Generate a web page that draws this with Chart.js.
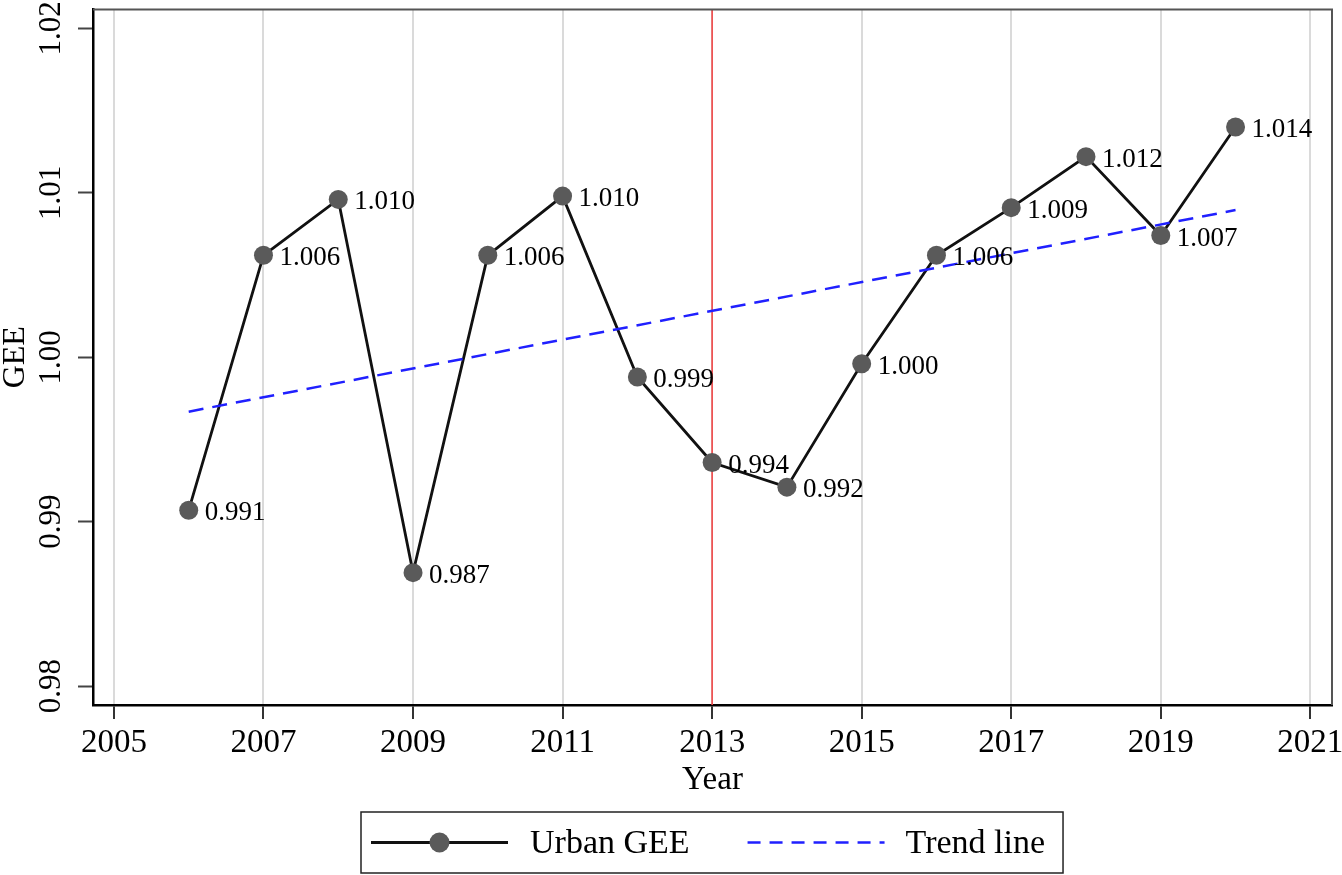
<!DOCTYPE html>
<html lang="en">
<head>
    <meta charset="UTF-8">
    <title>Urban GEE</title>
    <script src="https://cdn.jsdelivr.net/npm/chart.js"></script>
    <style>
        html, body { margin: 0; padding: 0; background: #fff; }
        .chart-box { width: 1342px; height: 875px; position: relative; }
    </style>
</head>
<body>
    <div class="chart-box">
        <canvas id="geeChart"></canvas>
    </div>
    <script>
        // data
        const YEARS = [2006, 2007, 2008, 2009, 2010, 2011, 2012, 2013, 2014, 2015, 2016, 2017, 2018, 2019, 2020];
        const URBAN_GEE = [0.9907, 1.0062, 1.0096, 0.9869, 1.0062, 1.0098, 0.9988, 0.9936, 0.9921, 0.9996, 1.0062, 1.0091, 1.0122, 1.0074, 1.0140];
        const TREND_YEARS = [2006, 2020];
        const TREND_VALUES = [0.99669, 1.00895];
        const X_TICKS = [2005, 2007, 2009, 2011, 2013, 2015, 2017, 2019, 2021];
        const Y_TICKS = [0.98, 0.99, 1.00, 1.01, 1.02];
        const CUTOFF_YEAR = 2013;

        const serif = '"Liberation Serif", "DejaVu Serif", serif';

        // red policy line, outer frame, rotated y labels, value labels, boxed legend
        const extrasPlugin = {
            id: 'extras',
            beforeDatasetsDraw(chart) {
                const ctx = chart.ctx, a = chart.chartArea;
                const x = chart.scales.x.getPixelForValue(CUTOFF_YEAR);
                ctx.save();
                ctx.strokeStyle = '#f04848';
                ctx.lineWidth = 1.6;
                ctx.beginPath();
                ctx.moveTo(x, a.top);
                ctx.lineTo(x, a.bottom);
                ctx.stroke();
                ctx.restore();
            },
            afterDraw(chart) {
                const ctx = chart.ctx, a = chart.chartArea;
                const ys = chart.scales.y;
                ctx.save();

                // top and right frame
                ctx.strokeStyle = '#555';
                ctx.lineWidth = 2;
                ctx.beginPath();
                ctx.moveTo(a.left, a.top);
                ctx.lineTo(a.right, a.top);
                ctx.lineTo(a.right, a.bottom);
                ctx.stroke();

                // y tick labels, turned like the original
                ctx.fillStyle = '#000';
                ctx.font = '31px ' + serif;
                ctx.textAlign = 'center';
                ctx.textBaseline = 'middle';
                ys.ticks.forEach(t => {
                    ctx.save();
                    ctx.translate(52, ys.getPixelForValue(t.value));
                    ctx.rotate(-Math.PI / 2);
                    ctx.fillText(t.value.toFixed(2), 0, 0);
                    ctx.restore();
                });

                // value labels next to each point
                ctx.font = '27px ' + serif;
                ctx.textAlign = 'left';
                const meta = chart.getDatasetMeta(0);
                meta.data.forEach((pt, i) => {
                    ctx.fillText(URBAN_GEE[i].toFixed(3), pt.x + 16, pt.y + 3);
                });

                // legend
                const ds = chart.data.datasets;
                ctx.font = '34px ' + serif;
                const t1 = ctx.measureText(ds[0].label).width;
                const t2 = ctx.measureText(ds[1].label).width;
                const sampleW = 137;
                const boxW = 10 + sampleW + 22 + t1 + 58 + sampleW + 21 + t2 + 18;
                const boxH = 61;
                const bx = Math.round((a.left + a.right) / 2 - boxW / 2);
                const by = a.bottom + 107;
                const cy = by + boxH / 2;
                ctx.strokeStyle = '#222';
                ctx.lineWidth = 1.5;
                ctx.strokeRect(bx, by, boxW, boxH);

                let cx = bx + 10;
                ctx.strokeStyle = ds[0].borderColor;
                ctx.lineWidth = ds[0].borderWidth;
                ctx.beginPath();
                ctx.moveTo(cx, cy);
                ctx.lineTo(cx + sampleW, cy);
                ctx.stroke();
                ctx.fillStyle = ds[0].pointBackgroundColor;
                ctx.beginPath();
                ctx.arc(cx + sampleW / 2, cy, 10, 0, Math.PI * 2);
                ctx.fill();
                cx += sampleW + 22;
                ctx.fillStyle = '#000';
                ctx.textBaseline = 'middle';
                ctx.fillText(ds[0].label, cx, cy + 2);
                cx += t1 + 58;

                ctx.strokeStyle = ds[1].borderColor;
                ctx.lineWidth = ds[1].borderWidth;
                ctx.setLineDash([13, 9]);
                ctx.beginPath();
                ctx.moveTo(cx, cy);
                ctx.lineTo(cx + sampleW, cy);
                ctx.stroke();
                ctx.setLineDash([]);
                cx += sampleW + 21;
                ctx.fillText(ds[1].label, cx, cy + 2);

                ctx.restore();
            }
        };

        const ctx = document.getElementById('geeChart').getContext('2d');
        new Chart(ctx, {
            type: 'line',
            data: {
                datasets: [{
                    label: 'Urban GEE',
                    data: YEARS.map((yr, i) => ({ x: yr, y: URBAN_GEE[i] })),
                    borderColor: '#111',
                    borderWidth: 2.8,
                    pointBackgroundColor: '#5a5a5a',
                    pointBorderWidth: 0,
                    pointRadius: 9.5,
                    tension: 0,
                    order: 2
                }, {
                    label: 'Trend line',
                    data: TREND_YEARS.map((yr, i) => ({ x: yr, y: TREND_VALUES[i] })),
                    borderColor: '#2020ff',
                    borderWidth: 2.5,
                    borderDash: [15, 9],
                    pointRadius: 0,
                    tension: 0,
                    order: 1
                }]
            },
            options: {
                responsive: true,
                maintainAspectRatio: false,
                animation: false,
                layout: { padding: { top: 8, right: 10, bottom: 78, left: 0 } },
                plugins: {
                    legend: { display: false },
                    tooltip: { enabled: false }
                },
                scales: {
                    x: {
                        type: 'linear',
                        min: 2004.72,
                        max: 2021.29,
                        afterBuildTicks: s => { s.ticks = X_TICKS.map(v => ({ value: v })); },
                        // let the last year label run into the margin, like the original
                        afterFit: s => { s.paddingRight = 0; s.paddingLeft = 0; },
                        ticks: {
                            callback: v => String(v),
                            color: '#000',
                            padding: 8,
                            maxRotation: 0,
                            font: { family: serif, size: 33, lineHeight: 1 }
                        },
                        grid: {
                            color: '#dadada',
                            lineWidth: 2,
                            tickColor: '#333',
                            tickLength: 14,
                            tickWidth: 2
                        },
                        border: { color: '#000', width: 2.5 },
                        title: {
                            display: true,
                            text: 'Year',
                            color: '#000',
                            padding: { top: -4, bottom: 0 },
                            font: { family: serif, size: 33, lineHeight: 1 }
                        }
                    },
                    y: {
                        min: 0.97885,
                        max: 1.02115,
                        afterBuildTicks: s => { s.ticks = Y_TICKS.map(v => ({ value: v })); },
                        ticks: { display: false },
                        grid: {
                            drawOnChartArea: false,
                            tickColor: '#444',
                            tickLength: 15,
                            tickWidth: 2
                        },
                        border: { color: '#000', width: 2.5 },
                        title: {
                            display: true,
                            text: 'GEE',
                            color: '#000',
                            padding: { top: 0, bottom: 46 },
                            font: { family: serif, size: 32, lineHeight: 1 }
                        }
                    }
                }
            },
            plugins: [extrasPlugin]
        });
    </script>
</body>
</html>
